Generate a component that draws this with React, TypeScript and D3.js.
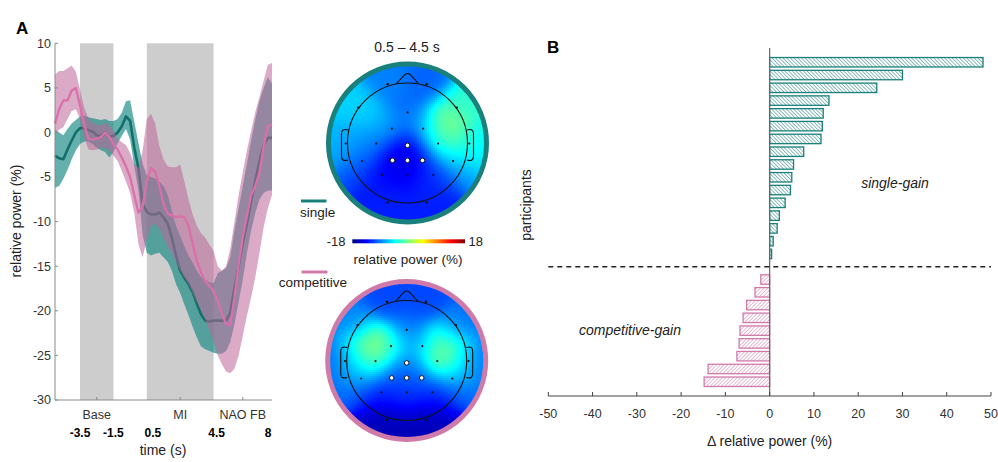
import React, { useMemo } from "react";
import * as d3 from "d3";

// ---- panel A: time course (relative power, %) ----
const times = [
  -5, -4.75, -4.5, -4.25, -4, -3.75, -3.5, -3.25, -3, -2.75, -2.5, -2.25, -2,
  -1.75, -1.5, -1.25, -1, -0.75, -0.5, -0.25, 0, 0.25, 0.5, 0.75, 1, 1.25, 1.5,
  1.75, 2, 2.25, 2.5, 2.75, 3, 3.25, 3.5, 3.75, 4, 4.25, 4.5, 4.75, 5, 5.25, 5.5,
  5.75, 6, 6.25, 6.5, 6.75, 7, 7.25, 7.5, 7.75, 8,
];
const singleMean = [
  -2.6, -2.9, -3.0, -1.9, -0.9, 0.0, 0.5, 0.45, 0.25, 0.1, -0.3, -0.4, 0.0,
  -0.45, -0.4, 0.0, 0.7, 1.8, 1.3, -1.7, -4.0, -8.0, -8.9, -9.2, -9.2, -9.0, -9.5,
  -10.2, -11.8, -13.8, -15.5, -16.3, -17.0, -17.9, -19.2, -20.4, -21.1, -21.2, -21.1,
  -21.1, -21.1, -21.1, -20.2, -17.5, -15.0, -12.4, -10.2, -7.7, -5.4, -3.2, -1.4, -0.6, -0.6,
];
const singleUpper = [
  0.3, 0.0, -0.3, 0.4, 1.0, 1.4, 1.8, 1.9, 1.7, 1.6, 1.5, 1.4, 1.5, 1.3, 1.3, 1.5,
  2.2, 3.5, 3.6, 1.2, -1.2, -3.5, -4.8, -5.0, -5.2, -5.5, -6.0, -7.0, -8.8, -10.5,
  -11.6, -12.8, -13.8, -14.6, -15.5, -16.2, -16.5, -16.8, -16.9, -15.8, -15.5, -15.2,
  -14.0, -11.0, -8.5, -6.0, -3.5, -0.9, 1.5, 3.5, 5.0, 6.2, 5.5,
];
const singleLower = [
  -6.2, -6.0, -5.2, -4.2, -3.0, -2.0, -1.3, -1.0, -1.0, -1.3, -1.7, -2.0, -2.2,
  -2.8, -2.2, -1.2, -0.4, 0.4, -0.8, -3.8, -6.5, -11.5, -13.5, -13.8, -13.6, -13.5,
  -14.0, -14.5, -15.5, -17.0, -18.0, -19.3, -20.5, -21.8, -23.0, -24.0, -24.3, -24.5,
  -24.7, -24.8, -24.8, -24.5, -23.5, -21.5, -19.0, -16.5, -13.5, -11.0, -9.0, -7.5,
  -6.8, -6.5, -6.5,
];
const competitiveMean = [
  1.0, 2.6, 3.6, 3.6, 4.7, 5.0, 3.0, 0.9, -0.7, -0.8, -0.7, -0.5, 0.0, -0.5, -1.3,
  -1.9, -2.8, -3.8, -5.0, -7.0, -9.0, -8.3, -5.5, -4.0, -4.4, -6.0, -8.0, -9.1, -9.3,
  -9.5, -9.4, -9.5, -10.5, -12.5, -14.4, -15.7, -16.7, -17.2, -17.8, -18.9, -20.3,
  -21.5, -21.6, -18.5, -14.8, -11.7, -9.3, -7.0, -6.0, -4.5, -1.5, 0.7, 0.9,
];
const competitiveUpper = [
  6.5, 6.9, 6.9, 7.2, 7.5, 6.8, 4.8, 2.8, 1.6, 1.1, 0.9, 0.8, 1.1, 0.8, 0.2, -0.7,
  -1.1, -1.4, -2.3, -3.5, -4.0, -2.0, 1.5, 2.1, 1.0, -1.5, -3.0, -3.8, -3.9, -3.9,
  -3.6, -5.5, -7.5, -9.2, -10.5, -11.3, -11.8, -12.6, -13.3, -15.0, -15.5, -15.0,
  -13.0, -10.0, -7.0, -4.5, -2.0, 0.2, 2.3, 4.0, 5.8, 7.6, 7.8,
];
const competitiveLower = [
  -0.2, 0.3, 0.6, 1.5, 2.4, 2.6, 1.5, -0.6, -1.9, -2.0, -1.9, -1.7, -1.7, -2.0,
  -2.6, -3.2, -4.3, -5.5, -6.8, -9.0, -12.5, -14.0, -12.0, -10.5, -10.2, -10.8,
  -11.8, -12.8, -13.6, -14.5, -15.5, -16.3, -17.0, -18.0, -19.0, -20.0, -21.0,
  -22.2, -23.5, -25.0, -26.0, -26.8, -27.0, -26.5, -25.0, -22.8, -20.5, -18.5,
  -16.2, -13.5, -10.6, -8.5, -7.0,
];
const yTicksA = [10, 5, 0, -5, -10, -15, -20, -25, -30];
const phaseLabels = ["Base", "MI", "NAO FB"];
const phaseStart = [-3.5, 0.5, 4.5];
const phaseEnd = [-1.5, 4.5, 8];
const shadedPhases = ["Base", "MI"];
const timeMarks = [-3.5, -1.5, 0.5, 4.5, 8];
const timeMarkLabels = ["-3.5", "-1.5", "0.5", "4.5", "8"];

// ---- topographies (mean relative power per electrode, 0.5 - 4.5 s) ----
// last four channels are used for the interpolation but not drawn as dots
const electrodeNames = [
  "Fp1", "Fp2", "F7", "F8", "Fz", "FC3", "FC4", "T7", "C3", "Cz", "C4", "T8",
  "CP5", "CP3", "CPz", "CP4", "CP6", "P3", "Pz", "P4", "O1", "O2",
  "FC5", "FC6", "C5", "C6",
];
const electrodeX = [
  -0.33, 0.32, -0.82, 0.82, 0, -0.26, 0.26, -1.03, -0.52, 0, 0.51, 1.03, -0.76,
  -0.25, 0, 0.25, 0.76, -0.42, 0, 0.43, -0.33, 0.32,
  -0.6, 0.6, -0.77, 0.77,
];
const electrodeY = [
  -0.98, -0.98, -0.59, -0.59, -0.51, -0.24, -0.24, 0.01, 0.01, 0.04, 0.01, 0.01,
  0.3, 0.29, 0.29, 0.29, 0.3, 0.53, 0.53, 0.53, 0.99, 0.99,
  -0.3, -0.3, 0, 0,
];
const hiddenElectrodes = ["FC5", "FC6", "C5", "C6"];
const rimElectrodes = ["Fp1", "Fp2", "F7", "F8", "O1", "O2"];
const highlighted = ["Cz", "CP3", "CPz", "CP4"];
const singleTopo = [
  -9, -10, -6, -3, -10, -8, -7, -7, -10, -14, -3, -5, -11, -15, -16, -12, -8,
  -13, -13, -12, -12.5, -12.5,
  -6, 1.5, -8, 0,
];
const competitiveTopo = [
  -11, -11, -9, -9.5, -10, -2, -7, -10, 0, -9, 2, -10, -10, -11, -10, -10, -10, -13,
  -13, -13, -16, -16,
  2, -1, -2, 0,
];
const colorLimits = [-18, 18];

// ---- panel B: per-participant difference ----
const singleGain = [48.2, 30.0, 24.2, 13.4, 12.1, 11.9, 11.6, 7.7, 5.4, 5.0, 4.7, 3.5, 2.2, 1.7, 0.8, 0.45];
const competitiveGain = [-2.0, -3.3, -5.2, -6.0, -6.7, -6.9, -7.4, -13.9, -14.8];
const xTicksB = [-50, -40, -30, -20, -10, 0, 10, 20, 30, 40, 50];

const TEAL = "#19807c";
const PINK = "#d07aaa";
const FONT = "'Liberation Sans', Arial, Helvetica, sans-serif";

const jet = d3
  .scaleLinear<string>()
  .domain([0, 0.125, 0.375, 0.625, 0.875, 1])
  .range(["#00007f", "#0000ff", "#00ffff", "#ffff00", "#ff0000", "#7f0000"])
  .interpolate(d3.interpolateRgb)
  .clamp(true);
const colorOf = (v: number) => jet((v - colorLimits[0]) / (colorLimits[1] - colorLimits[0]));

function Topo({ cx, cy, values, ring }: { cx: number; cy: number; values: number[]; ring: string }) {
  const R = 60;
  const outer = 77;
  const cell = 2;
  const cells = useMemo(() => {
    const out: { x: number; y: number; c: string }[] = [];
    const s2 = 2 * 0.22 * 0.22;
    for (let py = -outer; py < outer; py += cell) {
      for (let px = -outer; px < outer; px += cell) {
        const mx = px + cell / 2;
        const my = py + cell / 2;
        if (Math.hypot(mx, my) > outer + 2) continue;
        const nx = mx / R;
        const ny = my / R;
        let sw = 0;
        let sv = 0;
        values.forEach((v, i) => {
          const d2 = (nx - electrodeX[i]) ** 2 + (ny - electrodeY[i]) ** 2;
          const w = Math.exp(-d2 / s2);
          sw += w;
          sv += w * v;
        });
        out.push({ x: px, y: py, c: colorOf(sv / sw) });
      }
    }
    return out;
  }, [values]);
  const clipId = `clip-${ring.replace("#", "")}`;
  return (
    <g transform={`translate(${cx},${cy})`}>
      <clipPath id={clipId}>
        <circle r={outer + 1} />
      </clipPath>
      <g clipPath={`url(#${clipId})`} shapeRendering="crispEdges">
        {cells.map((d, i) => (
          <rect key={i} x={d.x} y={d.y} width={cell + 0.3} height={cell + 0.3} fill={d.c} />
        ))}
      </g>
      <circle r={79} fill="none" stroke={ring} strokeWidth={5} />
      <circle r={R} fill="none" stroke="#111" strokeWidth={1.1} />
      <path d="M-11,-59.3 L-2.5,-68.5 Q0,-70.5 2.5,-68.5 L11,-59.3" fill="none" stroke="#111" strokeWidth={1.1} />
      <path d="M-59.6,-13 Q-66,-15 -66,-9 L-66,13 Q-66,19 -59.6,17" fill="none" stroke="#111" strokeWidth={1.1} />
      <path d="M59.6,-13 Q66,-15 66,-9 L66,13 Q66,19 59.6,17" fill="none" stroke="#111" strokeWidth={1.1} />
      {electrodeNames.map((n, i) => {
        if (hiddenElectrodes.includes(n)) return null;
        const x = electrodeX[i] * R;
        const y = electrodeY[i] * R;
        if (highlighted.includes(n))
          return <circle key={n} cx={x} cy={y} r={2.3} fill="#fff" stroke="#111" strokeWidth={1} />;
        if (rimElectrodes.includes(n))
          return <circle key={n} cx={x} cy={y} r={1.2} fill="#111" />;
        return <circle key={n} cx={x} cy={y} r={1.1} fill="#111" />;
      })}
    </g>
  );
}

export default function App() {
  // panel A scales
  const xA = d3.scaleLinear().domain([-5, 8]).range([55, 272]);
  const yA = d3.scaleLinear().domain([-30, 10]).range([400, 43.3]);
  const area = (lo: number[], hi: number[]) =>
    d3
      .area<number>()
      .x((t) => xA(t))
      .y0((_, i) => yA(lo[i]))
      .y1((_, i) => yA(hi[i]))(times) || "";
  const line = (m: number[]) =>
    d3
      .line<number>()
      .x((t) => xA(t))
      .y((_, i) => yA(m[i]))(times) || "";

  // panel B scales
  const xB = d3.scaleLinear().domain([-50, 50]).range([548.3, 991]);
  const rows = [
    ...singleGain.map((_, i) => `s${i}`),
    "gap",
    ...competitiveGain.map((_, i) => `c${i}`),
  ];
  const yB = d3.scaleBand<string>().domain(rows).range([48, 396]).paddingInner(0.26).paddingOuter(0.745);
  const gapY = (yB("gap") || 0) + yB.bandwidth() / 2;

  const tealTopo = { cx: 407.5, cy: 143 };
  const pinkTopo = { cx: 406.7, cy: 360.5 };

  return (
    <div style={{ position: "absolute", left: 0, top: 0 }}>
      <svg width={998} height={462} style={{ display: "block", fontFamily: FONT }}>
        <defs>
          <pattern id="hatchTeal" patternUnits="userSpaceOnUse" width={2.6} height={2.6} patternTransform="rotate(-45)">
            <rect width={2.6} height={2.6} fill="#fff" />
            <line x1={0} y1={0} x2={0} y2={2.6} stroke={TEAL} strokeWidth={1} />
          </pattern>
          <pattern id="hatchPink" patternUnits="userSpaceOnUse" width={2.6} height={2.6} patternTransform="rotate(45)">
            <rect width={2.6} height={2.6} fill="#fff" />
            <line x1={0} y1={0} x2={0} y2={2.6} stroke={PINK} strokeWidth={1} />
          </pattern>
          <linearGradient id="jetbar" x1="0" x2="1" y1="0" y2="0">
            {d3.range(0, 1.0001, 0.0625).map((s) => (
              <stop key={s} offset={s} stopColor={jet(s)} />
            ))}
          </linearGradient>
        </defs>

        {/* ---------- panel A ---------- */}
        <text x={16} y={34} fontSize={17} fontWeight="bold">A</text>
        {phaseLabels.map((p, i) =>
          shadedPhases.includes(p) ? (
            <rect
              key={p}
              x={xA(phaseStart[i])}
              y={yA(10)}
              width={xA(phaseEnd[i]) - xA(phaseStart[i])}
              height={yA(-30) - yA(10)}
              fill="#cdcdcd"
            />
          ) : null
        )}
        <path d={area(singleLower, singleUpper)} fill="#1b8a84" fillOpacity={0.68} />
        <path d={line(singleMean)} fill="none" stroke="#136f6c" strokeWidth={2.6} strokeLinejoin="round" />
        <path d={area(competitiveLower, competitiveUpper)} fill="#bd6499" fillOpacity={0.55} />
        <path d={line(competitiveMean)} fill="none" stroke="#d970aa" strokeWidth={2.3} strokeLinejoin="round" />

        <line x1={xA.range()[0]} x2={xA.range()[0]} y1={yA(10)} y2={yA(-30)} stroke="#8a8a8a" strokeWidth={1} />
        <line x1={xA.range()[0]} x2={xA.range()[1]} y1={yA(-30)} y2={yA(-30)} stroke="#8a8a8a" strokeWidth={1} />
        {yTicksA.map((v) => (
          <g key={v}>
            <line x1={xA.range()[0]} x2={xA.range()[0] + 3} y1={yA(v)} y2={yA(v)} stroke="#8a8a8a" />
            <text x={51} y={yA(v) + 4.3} fontSize={12.5} textAnchor="end" fill="#333">{v}</text>
          </g>
        ))}
        {phaseLabels.map((p, i) => {
          const mid = (phaseStart[i] + phaseEnd[i]) / 2;
          return (
            <g key={p}>
              <line x1={xA(mid)} x2={xA(mid)} y1={yA(-30)} y2={yA(-30) - 3} stroke="#8a8a8a" />
              <text x={xA(mid)} y={419} fontSize={12.5} textAnchor="middle" fill="#333">{p}</text>
            </g>
          );
        })}
        {timeMarks.map((t, i) => (
          <text
            key={t}
            x={xA(t) + [0, 0, 6, 3, -4][i]}
            y={437}
            fontSize={12}
            fontWeight="bold"
            textAnchor="middle"
            fill="#000"
          >
            {timeMarkLabels[i]}
          </text>
        ))}
        <text x={163} y={455} fontSize={14} textAnchor="middle" fill="#222">time (s)</text>
        <text transform="translate(21,221) rotate(-90)" fontSize={14} textAnchor="middle" fill="#222">
          relative power (%)
        </text>

        {/* ---------- topographies ---------- */}
        <text x={407} y={52} fontSize={14} textAnchor="middle" fill="#222">0.5 – 4.5 s</text>
        <Topo cx={tealTopo.cx} cy={tealTopo.cy} values={singleTopo} ring={TEAL} />
        <Topo cx={pinkTopo.cx} cy={pinkTopo.cy} values={competitiveTopo} ring={PINK} />

        <line x1={301} x2={326.5} y1={201} y2={201} stroke={TEAL} strokeWidth={3} />
        <text x={300} y={217} fontSize={13.5} fill="#222">single</text>
        <line x1={301.5} x2={327.5} y1={272} y2={272} stroke={PINK} strokeWidth={3} />
        <text x={347} y={287} fontSize={13.5} textAnchor="end" fill="#222">competitive</text>

        <rect x={352.3} y={239.3} width={112.7} height={4} fill="url(#jetbar)" />
        <text x={345.5} y={245.5} fontSize={13} textAnchor="end" fill="#222">{colorLimits[0]}</text>
        <text x={468.5} y={245.5} fontSize={13} fill="#222">{colorLimits[1]}</text>
        <text x={408} y={264} fontSize={13.5} textAnchor="middle" fill="#222">relative power (%)</text>

        {/* ---------- panel B ---------- */}
        <text x={547} y={53} fontSize={17} fontWeight="bold">B</text>
        {singleGain.map((v, i) => (
          <rect
            key={`s${i}`}
            x={xB(Math.min(0, v))}
            y={yB(`s${i}`)}
            width={Math.abs(xB(v) - xB(0))}
            height={yB.bandwidth()}
            fill="url(#hatchTeal)"
            stroke={TEAL}
            strokeWidth={1.3}
          />
        ))}
        {competitiveGain.map((v, i) => (
          <rect
            key={`c${i}`}
            x={xB(Math.min(0, v))}
            y={yB(`c${i}`)}
            width={Math.abs(xB(v) - xB(0))}
            height={yB.bandwidth()}
            fill="url(#hatchPink)"
            stroke={PINK}
            strokeWidth={1.3}
          />
        ))}
        <line x1={xB(0)} x2={xB(0)} y1={48} y2={396} stroke="#666" strokeWidth={1.2} />
        <line x1={xB(-50)} x2={xB(50)} y1={gapY} y2={gapY} stroke="#222" strokeWidth={1.5} strokeDasharray="5,4" />
        <line x1={xB(-50)} x2={xB(50)} y1={396} y2={396} stroke="#444" strokeWidth={1} />
        {xTicksB.map((v) => (
          <g key={v}>
            <line x1={xB(v)} x2={xB(v)} y1={396} y2={392} stroke="#444" />
            <text x={xB(v)} y={418} fontSize={12.5} textAnchor="middle" fill="#333">{v}</text>
          </g>
        ))}
        <text x={xB(0)} y={446} fontSize={14} textAnchor="middle" fill="#222">Δ relative power (%)</text>
        <text transform="translate(531,205) rotate(-90)" fontSize={14} textAnchor="middle" fill="#222">participants</text>
        <text x={895} y={188} fontSize={14} fontStyle="italic" textAnchor="middle" fill="#222">single-gain</text>
        <text x={630} y={335} fontSize={14} fontStyle="italic" textAnchor="middle" fill="#222">competitive-gain</text>
      </svg>
    </div>
  );
}
